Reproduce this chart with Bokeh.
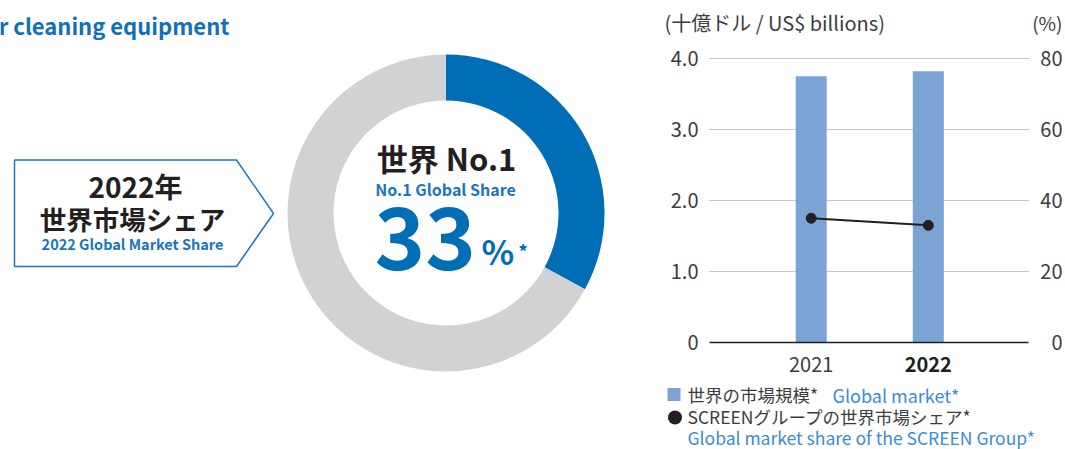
import math
from bokeh.plotting import figure
from bokeh.models import Range1d, Label, ColumnDataSource
from bokeh.embed import file_html
from bokeh.resources import INLINE

FONT = "Noto Sans CJK JP"

# ---------------- data ----------------
share_labels = ["SCREEN", "Others"]
share_values = [33, 67]
years = [2021, 2022]
year_labels = ["2021", "2022"]
market_size = [3.75, 3.82]      # US$ billions
group_share = [35, 33]          # %
left_ticks = [0, 1, 2, 3, 4]
left_tick_labels = ["0", "1.0", "2.0", "3.0", "4.0"]
right_ticks = [0, 20, 40, 60, 80]
right_tick_labels = ["0", "20", "40", "60", "80"]

# ---------------- colours ----------------
BLUE = "#006db7"
TXT_BLUE = "#1a75bc"
LEG_BLUE = "#3a8dcf"
GREY = "#d1d2d4"
BAR = "#7ba4d5"
DARK = "#231f20"
TICK = "#3c3c3c"

W, H = 1065, 449
OX, OY = 0, 0


def X(sx):
    return sx - OX


def Y(sy):
    return (H + OY) - sy


p = figure(width=W, height=H, x_range=Range1d(0, W), y_range=Range1d(0, H),
           x_axis_type=None, y_axis_type=None, toolbar_location=None, tools="",
           output_backend="svg", min_border=0, outline_line_color=None)


def lab(x, y, text, size, color, bold=False, align="left", baseline="middle", **kw):
    p.add_layout(Label(x=x, y=y, text=text, text_font=FONT,
                       text_font_size=f"{size}px", text_color=color,
                       text_font_style="bold" if bold else "normal",
                       text_align=align, text_baseline=baseline, **kw))


# ---------------- title ----------------
lab(X(229), Y(24), "r cleaning equipment", 22, "#1070b8", bold=True,
    align="right", baseline="alphabetic")

# ---------------- callout arrow box ----------------
p.patch([X(14), X(236), X(273), X(236), X(14)],
        [Y(159.5), Y(159.5), Y(213), Y(266), Y(266)],
        fill_color="white", line_color="#1b75bb", line_width=1.5)
lab(X(135), Y(185), "2022年", 28, DARK, bold=True, align="center")
lab(X(132), Y(218), "世界市場シェア", 26.5, DARK, bold=True, align="center")
lab(X(132), Y(242.5), "2022 Global Market Share", 14.5, TXT_BLUE, bold=True, align="center")

# ---------------- donut ----------------
total = sum(share_values)
starts, ends = [], []
a = math.pi / 2
for v in share_values:
    starts.append(a)
    a -= 2 * math.pi * v / total
    ends.append(a)
dsrc = ColumnDataSource(dict(start=starts, end=ends, color=[BLUE, GREY], name=share_labels))
p.annular_wedge(x=X(445.5), y=Y(212.5), inner_radius=112.5, outer_radius=158.5,
                start_angle="start", end_angle="end", direction="clock",
                fill_color="color", line_color=None, source=dsrc)

lab(X(446), Y(156.5), "世界 No.1", 31, DARK, bold=True, align="center")
lab(X(445), Y(188), "No.1 Global Share", 16, TXT_BLUE, bold=True, align="center")
lab(X(374), Y(237.5), f"{share_values[0]}", 86, BLUE, bold=True, baseline="alphabetic")
lab(X(481), Y(250), "%", 34, BLUE, bold=True, baseline="alphabetic")
lab(X(518), Y(250), "*", 18, BLUE, bold=True, baseline="alphabetic")

# ---------------- bar + line chart (own scales) ----------------
FL, FR, FT, FB = 709, 1028, 58, 342   # plot area on the page
ppx = 117.1                           # pixels per year
ppy = (FB - FT) / 4.0                 # pixels per US$ billion
yr0 = years[0] - (810.7 - OX) / ppx
yr1 = years[0] + (W + OX - 810.7) / ppx
m0 = -(H + OY - FB) / ppy
m1 = (FB - OY) / ppy
p.extra_x_ranges = {"yr": Range1d(yr0, yr1)}
p.extra_y_ranges = {"mkt": Range1d(m0, m1), "pct": Range1d(m0 * 20, m1 * 20)}

# grid lines (dotted) at the left-axis ticks
p.segment(x0=X(FL), x1=X(FR), y0=left_ticks[1:], y1=left_ticks[1:],
          y_range_name="mkt", line_color="#8f8f8f", line_dash="1 1", line_width=1)

p.vbar(x=years, top=market_size, bottom=0, width=31 / ppx, x_range_name="yr",
       y_range_name="mkt", fill_color=BAR, line_color=None)

# baseline
p.segment(x0=[X(FL)], x1=[X(FR)], y0=[0], y1=[0], y_range_name="mkt",
          line_color=DARK, line_width=1.5)

p.line(years, group_share, x_range_name="yr", y_range_name="pct",
       line_color=DARK, line_width=2)
p.scatter(years, group_share, x_range_name="yr", y_range_name="pct",
          size=10, fill_color=DARK, line_color=DARK)

# tick labels
for t, s in zip(left_ticks, left_tick_labels):
    lab(X(698), t, s, 20, TICK, align="right", y_range_name="mkt")
for t, s in zip(right_ticks, right_tick_labels):
    lab(X(1062), t, s, 20, TICK, align="right", y_range_name="pct")

# axis titles
lab(X(664), Y(22), "(十億ドル / US$ billions)", 20, TICK)
lab(X(1062), Y(22), "(%)", 19, TICK, align="right")

# category labels
lab(years[0], Y(364), year_labels[0], 20, TICK, align="center", x_range_name="yr")
lab(years[1], Y(364), year_labels[1], 20, DARK, bold=True, align="center", x_range_name="yr")

# legend
p.scatter([X(673.5)], [Y(394)], marker="square", size=13, fill_color=BAR, line_color=None)
lab(X(687), Y(394), "世界の市場規模*", 17.5, TICK)
lab(X(832), Y(394), "Global market*", 18, LEG_BLUE)
p.scatter([X(674.5)], [Y(417)], marker="circle", size=14, fill_color=DARK, line_color=None)
lab(X(687), Y(416), "SCREENグループの世界市場シェア*", 17.5, TICK)
lab(X(687), Y(437), "Global market share of the SCREEN Group*", 17.5, LEG_BLUE)

open("out.html", "w").write(file_html(p, INLINE))
